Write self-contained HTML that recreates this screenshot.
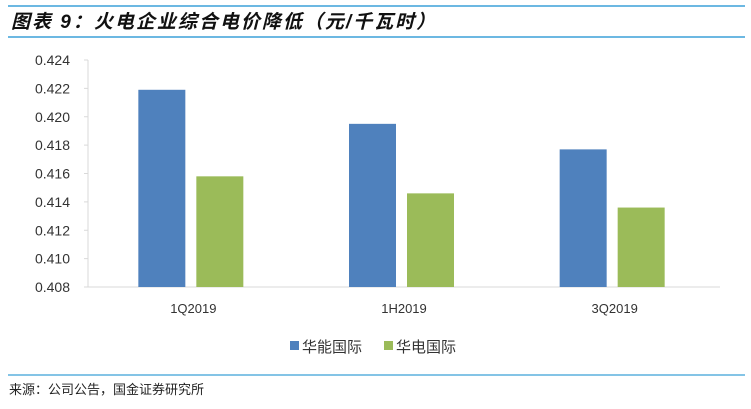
<!DOCTYPE html>
<html><head><meta charset="utf-8"><style>
body{margin:0;background:#fff;width:751px;height:404px;overflow:hidden;font-family:"Liberation Sans","Noto Sans CJK SC",sans-serif;}
</style></head><body>
<svg width="751" height="404" xmlns="http://www.w3.org/2000/svg">
<line x1="8" y1="6" x2="745" y2="6" stroke="#3ba0d8" stroke-width="1.5"/>
<text x="11" y="28" font-size="19" font-weight="bold" font-style="italic" letter-spacing="2" fill="#111" font-family="'Liberation Sans','Noto Sans CJK SC',sans-serif">图表 9：火电企业综合电价降低（元/千瓦时）</text>
<line x1="8" y1="37" x2="745" y2="37" stroke="#3ba0d8" stroke-width="1.5"/>
<g id="plot"></g>
<g>
<rect x="290" y="341" width="9" height="9" fill="#4f81bd"/>
<text x="302" y="352" font-size="15" fill="#333">华能国际</text>
<rect x="384" y="341" width="9" height="9" fill="#9bbb59"/>
<text x="396" y="352" font-size="15" fill="#333">华电国际</text>
</g>
<line x1="8" y1="375" x2="745" y2="375" stroke="#3ba0d8" stroke-width="1.2"/>
<text x="9" y="394" font-size="13" fill="#222">来源：公司公告，国金证券研究所</text>
</svg>
<script>
const categories = ["1Q2019","1H2019","3Q2019"];
const huaneng = [0.4219, 0.4195, 0.4177];
const huadian = [0.4158, 0.4146, 0.4136];
const yTicks = [0.408,0.410,0.412,0.414,0.416,0.418,0.420,0.422,0.424];
const NS="http://www.w3.org/2000/svg";
const g=document.getElementById('plot');
const x0=88,x1=720,yTop=60,yBot=287,yMin=0.408,yMax=0.424;
const y=v=>yBot-(v-yMin)/(yMax-yMin)*(yBot-yTop);
const bw=(x1-x0)/categories.length;
function mk(t,a){const e=document.createElementNS(NS,t);for(const k in a)e.setAttribute(k,a[k]);g.appendChild(e);return e;}
const ax=mk('line',{x1:x0,y1:yTop,x2:x0,y2:yBot,stroke:'#d9d9d9'});


const bx=mk('line',{x1:x0-4,y1:yBot,x2:x1,y2:yBot,stroke:'#d9d9d9'});


yTicks.forEach(v=>{
 const tk=mk('line',{x1:x0-4,y1:y(v),x2:x0,y2:y(v),stroke:'#d9d9d9'});
 
 
 const t=mk('text',{x:70,y:y(v)+5,'font-size':14,fill:'#333','text-anchor':'end'});
 t.textContent=v.toFixed(3);
 
 
});
categories.forEach((c,i)=>{
 const cx=x0+bw*(i+0.5);
 const b1=mk('rect',{x:cx-55,y:y(huaneng[i]),width:47,height:yBot-y(huaneng[i]),fill:'#4f81bd'});
 
 
 const b2=mk('rect',{x:cx+3,y:y(huadian[i]),width:47,height:yBot-y(huadian[i]),fill:'#9bbb59'});
 
 
 const t=mk('text',{x:cx,y:313,'font-size':13,fill:'#333','text-anchor':'middle'});
 t.textContent=c;
 
 
});
</script>
</body></html>
